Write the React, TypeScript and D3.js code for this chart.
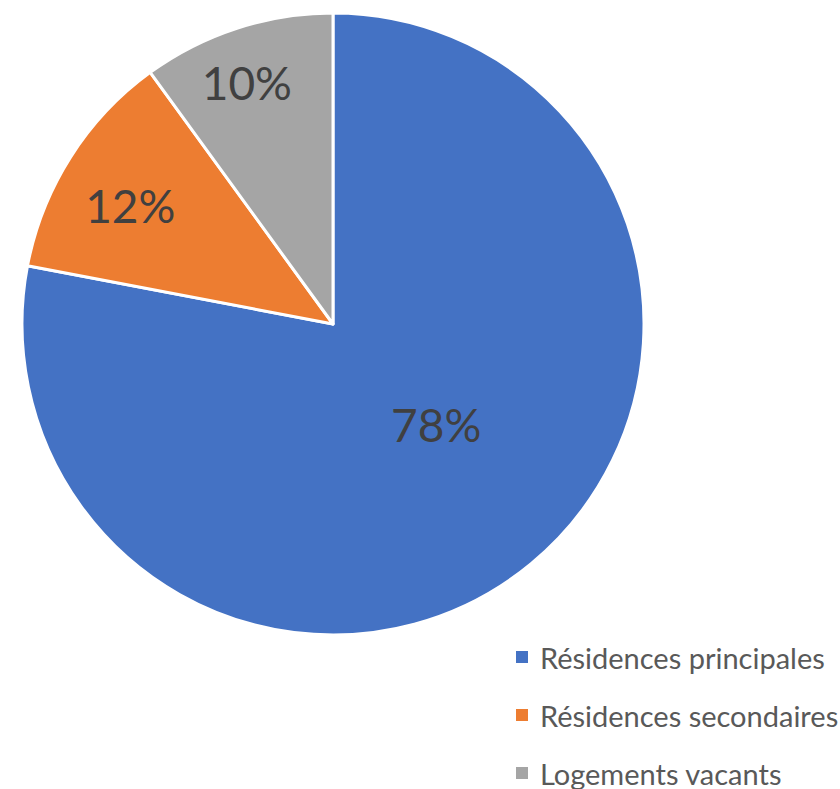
import React from "react";
import * as d3 from "d3";

const categories = ["Résidences principales", "Résidences secondaires", "Logements vacants"];
const values = [78, 12, 10];
const colors = ["#4472C4", "#ED7D31", "#A5A5A5"];

const W = 840;
const H = 789;
const CX = 333;
const CY = 324;
const R = 311;
const labelFrac = [0.463, 0.755, 0.826];
const labelAngleShift = [-6.2, -2.1, -1.6];

export default function App() {
  const pie = d3.pie<number>().sort(null).value((d) => d)(values);
  const arc = d3.arc<d3.PieArcDatum<number>>().innerRadius(0).outerRadius(R);
  const total = d3.sum(values);
  return (
    <svg width={W} height={H} style={{ position: "absolute", left: 0, top: 0, background: "#fff" }}>
      <g transform={`translate(${CX},${CY})`}>
        {pie.map((p, i) => (
          <path key={i} d={arc(p) || ""} fill={colors[i]} stroke="#fff" strokeWidth={3} strokeLinejoin="round" />
        ))}
        {pie.map((p, i) => {
          const lr = R * labelFrac[i];
          const a = (p.startAngle + p.endAngle) / 2 + (labelAngleShift[i] * Math.PI) / 180;
          const x = Math.sin(a) * lr;
          const y = -Math.cos(a) * lr;
          return (
            <text key={"l" + i} x={x} y={y} textAnchor="middle" dominantBaseline="central"
              fontFamily="Lato, 'Open Sans', sans-serif" fontSize={46} fill="#404040">
              {d3.format(".0%")(p.value / total)}
            </text>
          );
        })}
      </g>
      <g fontFamily="Lato, 'Open Sans', sans-serif" fontSize={29} fill="#595959">
        {categories.map((c, i) => (
          <g key={c} transform={`translate(516,${657 + i * 58})`}>
            <rect x={0} y={-6} width={12} height={12} fill={colors[i]} />
            <text x={24} y={0} dominantBaseline="central">{c}</text>
          </g>
        ))}
      </g>
    </svg>
  );
}
